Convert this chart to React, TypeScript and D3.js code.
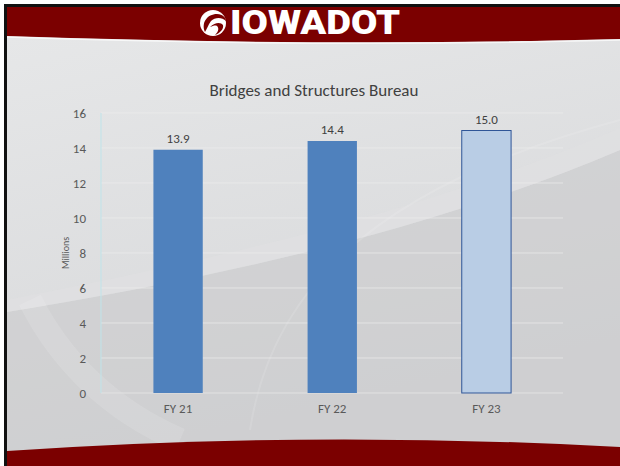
import React, { useEffect, useRef } from "react"
import * as d3 from "d3"

const categories = ["FY 21", "FY 22", "FY 23"]
const values = [13.9, 14.4, 15.0]
const yTicks = [0, 2, 4, 6, 8, 10, 12, 14, 16]
const title = "Bridges and Structures Bureau"
const yLabel = "Millions"

const W = 620
const H = 466
const FONT = "Carlito, Calibri, 'Open Sans', sans-serif"

const App = () => {
    const refSvg = useRef<SVGSVGElement>(null)

    useEffect(() => {
        const svg = d3.select(refSvg.current)
        svg.selectAll("*").remove()

        // Slide background
        const defs = svg.append("defs")
        const grad = defs.append("linearGradient").attr("id", "bg").attr("x1", 0).attr("y1", 0).attr("x2", 0.3).attr("y2", 1)
        grad.append("stop").attr("offset", "0%").attr("stop-color", "#e7e8e9")
        grad.append("stop").attr("offset", "100%").attr("stop-color", "#d6d7d9")

        svg.append("rect").attr("width", W).attr("height", H).attr("fill", "#ffffff")
        svg.append("rect").attr("x", 7).attr("y", 7).attr("width", W - 7).attr("height", H - 7).attr("fill", "url(#bg)")

        // swooshes
        svg.append("path")
            .attr("d", "M7,312 C200,280 420,235 620,150 L620,466 L7,466 Z")
            .attr("fill", "#c9cacc").attr("opacity", 0.6)
        svg.append("path")
            .attr("d", "M7,300 C200,262 420,215 620,128 L620,150 C420,235 200,280 7,312 Z")
            .attr("fill", "#dfe0e1").attr("opacity", 0.7)
        svg.append("path")
            .attr("d", "M250,430 C270,300 360,190 620,120")
            .attr("fill", "none").attr("stroke", "#ffffff").attr("stroke-width", 2).attr("opacity", 0.12)
        svg.append("path")
            .attr("d", "M30,300 C60,360 110,410 180,440")
            .attr("fill", "none").attr("stroke", "#ffffff").attr("stroke-width", 24).attr("opacity", 0.12)

        // Header and footer
        svg.append("path")
            .attr("d", "M7,7 H620 V39 Q330,47 7,36 Z")
            .attr("fill", "#7b0000")
        svg.append("path")
            .attr("d", "M7,37 Q330,48 620,40")
            .attr("fill", "none").attr("stroke", "#ffffff").attr("stroke-width", 1.5).attr("opacity", 0.7)
        svg.append("path")
            .attr("d", "M7,451 Q310,430 620,447 V466 H7 Z")
            .attr("fill", "#7b0000")
        svg.append("rect").attr("x", 4).attr("y", 4).attr("width", W - 4).attr("height", 3).attr("fill", "#111111")
        svg.append("rect").attr("x", 4).attr("y", 4).attr("width", 3).attr("height", H - 4).attr("fill", "#111111")

        // Logo: white disc with a red swoosh cut through it
        const logo = svg.append("g").attr("transform", "translate(213,23)")
        logo.append("ellipse").attr("rx", 13).attr("ry", 13).attr("fill", "#ffffff")
        logo.append("path")
            .attr("d", "M-8,9 C-12,0 -6,-9 4,-9 C10,-9 13,-5 13,-2 C9,-6 2,-6 -2,-2 C-5,2 -6,6 -8,9 Z")
            .attr("fill", "#7b0000")
        logo.append("path")
            .attr("d", "M-3,4 C2,-1 8,-1 10,2 C11,6 7,10 2,12 C6,8 6,5 4,3 C2,2 0,3 -3,4 Z")
            .attr("fill", "#7b0000")
        svg.append("text")
            .attr("x", 230).attr("y", 34)
            .attr("textLength", 170).attr("lengthAdjust", "spacingAndGlyphs")
            .attr("font-family", "Roboto, 'DejaVu Sans', sans-serif")
            .attr("font-weight", 900).attr("font-size", 33)
            .attr("fill", "#ffffff")
            .text("IOWADOT")

        // Chart
        const margins = { left: 101, right: 57, top: 113, bottom: 73 }
        const x = d3.scaleBand().domain(categories).range([margins.left, W - margins.right + 0.5]).paddingInner(0.68).paddingOuter(0.34)
        const y = d3.scaleLinear().domain([0, 16]).range([H - margins.bottom, margins.top])

        svg.append("text")
            .attr("x", 314).attr("y", 96)
            .attr("text-anchor", "middle")
            .attr("font-family", FONT)
            .attr("font-size", 17).attr("fill", "#404040")
            .text(title)

        const gGrid = svg.append("g")
        gGrid.selectAll("line").data(yTicks.filter(d => d > 0)).join("line")
            .attr("x1", margins.left).attr("x2", W - margins.right)
            .attr("y1", d => y(d)).attr("y2", d => y(d))
            .attr("stroke", "#ececec").attr("stroke-opacity", 0.7).attr("stroke-width", 1)
        svg.append("line")
            .attr("x1", margins.left).attr("x2", W - margins.right)
            .attr("y1", y(0)).attr("y2", y(0))
            .attr("stroke", "#e2e2e2").attr("stroke-width", 1)
        svg.append("line")
            .attr("x1", margins.left).attr("x2", margins.left)
            .attr("y1", y(16)).attr("y2", y(0))
            .attr("stroke", "#bfe4ea").attr("stroke-width", 1)

        const gY = svg.append("g").attr("transform", `translate(${margins.left - 15},0)`)
            .call(d3.axisLeft(y).tickValues(yTicks).tickSize(0).tickPadding(0))
        gY.select(".domain").remove()
        gY.selectAll("text")
            .attr("font-family", FONT)
            .attr("font-size", 13).attr("fill", "#595959")

        svg.append("text")
            .attr("transform", `translate(69,${y(8)}) rotate(-90)`)
            .attr("text-anchor", "middle")
            .attr("font-family", FONT)
            .attr("font-size", 10).attr("fill", "#595959")
            .text(yLabel)

        const gX = svg.append("g").attr("transform", `translate(0,${y(0) + 11})`)
            .call(d3.axisBottom(x).tickSize(0).tickPadding(0))
        gX.select(".domain").remove()
        gX.selectAll("text")
            .attr("font-family", FONT)
            .attr("font-size", 13).attr("fill", "#595959")

        svg.append("g").selectAll("rect").data(values).join("rect")
            .attr("x", (d, i) => x(categories[i])!)
            .attr("y", d => y(d))
            .attr("width", x.bandwidth())
            .attr("height", d => y(0) - y(d))
            .attr("fill", (d, i) => i === 2 ? "#b9cde5" : "#4f81bd")
            .attr("stroke", (d, i) => i === 2 ? "#2f5597" : "none")
            .attr("stroke-width", 1)

        svg.append("g").selectAll("text").data(values).join("text")
            .attr("x", (d, i) => x(categories[i])! + x.bandwidth() / 2)
            .attr("y", d => y(d) - 7)
            .attr("text-anchor", "middle")
            .attr("font-family", FONT)
            .attr("font-size", 13).attr("fill", "#404040")
            .text(d => d.toFixed(1))
    }, [])

    return (
        <svg ref={refSvg} width={W} height={H} style={{ position: "absolute", left: 0, top: 0, display: "block" }} />
    )
}

export default App
